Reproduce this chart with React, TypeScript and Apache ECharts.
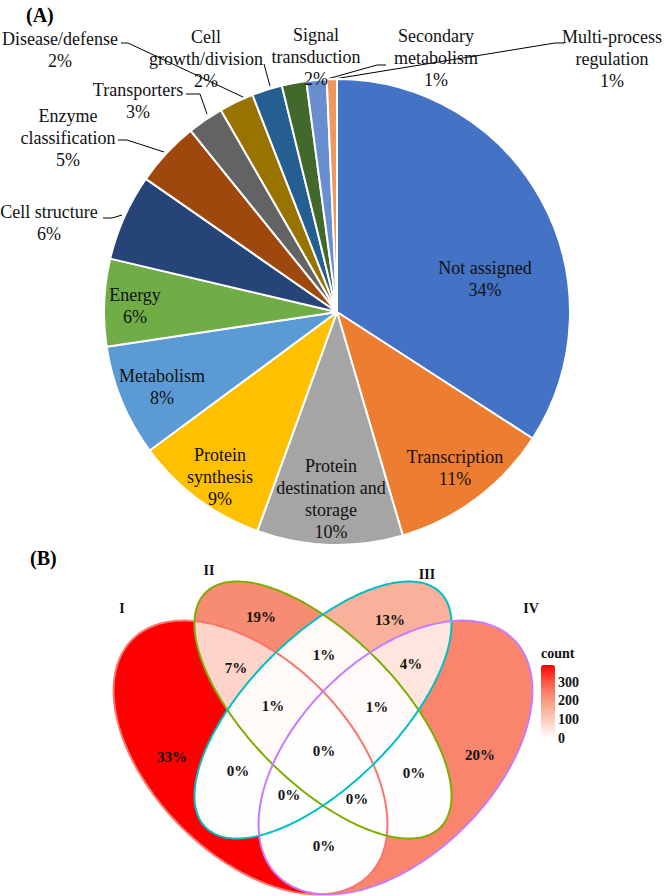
import React, { useEffect, useRef } from 'react';
import * as echarts from 'echarts';

const SERIF = '"Liberation Serif", "Times New Roman", serif';

// ---------- Panel A: pie data ----------
const PIE_CATEGORIES = [
  'Not assigned', 'Transcription', 'Protein destination and storage', 'Protein synthesis',
  'Metabolism', 'Energy', 'Cell structure', 'Enzyme classification', 'Transporters',
  'Disease/defense', 'Cell growth/division', 'Signal transduction', 'Secondary metabolism',
  'Multi-process regulation',
];
const PIE_VALUES = [34.1, 11.3, 10.1, 9.3, 7.75, 6.05, 6.0, 4.5, 2.5, 2.4, 2.1, 1.7, 1.4, 0.7];
const PIE_LABEL_TEXT = [
  'Not assigned', 'Transcription', 'Protein\ndestination and\nstorage', 'Protein\nsynthesis',
  'Metabolism', 'Energy', 'Cell structure', 'Enzyme\nclassification', 'Transporters',
  'Disease/defense', 'Cell\ngrowth/division', 'Signal\ntransduction', 'Secondary\nmetabolism',
  'Multi-process\nregulation',
];
const PIE_COLORS = [
  '#4472C4', '#ED7D31', '#A5A5A5', '#FFC000', '#5B9BD5', '#70AD47', '#264478',
  '#9E480E', '#636363', '#997300', '#255E91', '#43682B', '#698ED0', '#F1975A',
];
const PIE_INSIDE = [true, true, true, true, true, true, false, false, false, false, false, false, false, false];

// label layout (text block centres) and leader lines
const PIE_LABEL_XY: number[][] = [
  [485, 279], [455, 468], [331, 499], [220, 477], [162, 387], [135, 306],
  [49, 223], [68, 138], [138, 101], [60, 50], [206, 59], [316, 57], [436, 58], [612, 59],
];
const PIE_LEADERS: (number[][] | null)[] = [
  null, null, null, null, null, null,
  [[103, 218], [112, 218], [122, 215]],
  [[118, 140], [127, 140], [164, 152]],
  [[186, 94], [200, 94], [207, 114]],
  [[121, 43], [128, 43], [243, 97]],
  [[264, 64], [270, 86]],
  null,
  [[386, 65], [377, 65], [320, 81]],
  [[564, 43], [555, 43], [334, 79]],
];

// ---------- Panel B: Venn data ----------
const SET_NAMES = ['I', 'II', 'III', 'IV'];
const SET_COLORS = ['#F8766D', '#7CAE00', '#00BFC4', '#C77CFF'];
const REGION_SETS = [
  [0], [1], [2], [3],
  [0, 1], [0, 2], [0, 3], [1, 2], [1, 3], [2, 3],
  [0, 1, 2], [0, 1, 3], [0, 2, 3], [1, 2, 3],
  [0, 1, 2, 3],
];
const REGION_COUNTS = [392, 226, 155, 238, 83, 2, 1, 12, 3, 48, 10, 1, 2, 9, 1];
const COUNT_TICKS = [0, 100, 200, 300];

// Venn layout (pixels)
const VENN_ELLIPSES = [
  { cx: 250.5, cy: 757.5, a: 167, b: 98, angle: 45 },
  { cx: 323, cy: 710, a: 166, b: 74, angle: 45 },
  { cx: 323, cy: 710, a: 166, b: 74, angle: -45 },
  { cx: 395.5, cy: 757.5, a: 167, b: 98, angle: -45 },
];
const SET_LABEL_XY = [[122, 608], [209, 570], [427, 574], [531, 608]];
const REGION_LABEL_XY = [
  [172, 757], [261, 617], [390, 620], [480, 755],
  [236, 668], [238, 771], [324, 846], [324, 655], [414, 773], [411, 664],
  [273, 706], [357, 799], [289, 795], [377, 707],
  [324, 751],
];

function ellipsePoly(e: { cx: number; cy: number; a: number; b: number; angle: number }): number[][] {
  const n = 240;
  const phi = (e.angle * Math.PI) / 180;
  const pts: number[][] = [];
  for (let k = 0; k < n; k++) {
    const t = (k / n) * Math.PI * 2;
    const x = e.cx + e.a * Math.cos(t) * Math.cos(phi) - e.b * Math.sin(t) * Math.sin(phi);
    const y = e.cy + e.a * Math.cos(t) * Math.sin(phi) + e.b * Math.sin(t) * Math.cos(phi);
    pts.push([x, y]);
  }
  return pts;
}

function clipConvex(subject: number[][], clip: number[][]): number[][] {
  let out = subject;
  for (let i = 0; i < clip.length; i++) {
    const A = clip[i];
    const B = clip[(i + 1) % clip.length];
    const inp = out;
    out = [];
    if (!inp.length) return out;
    const side = (P: number[]) => (B[0] - A[0]) * (P[1] - A[1]) - (B[1] - A[1]) * (P[0] - A[0]);
    for (let j = 0; j < inp.length; j++) {
      const P = inp[j];
      const Q = inp[(j + 1) % inp.length];
      const sp = side(P);
      const sq = side(Q);
      if (sp >= 0) out.push(P);
      if ((sp >= 0) !== (sq >= 0)) {
        const t = sp / (sp - sq);
        out.push([P[0] + t * (Q[0] - P[0]), P[1] + t * (Q[1] - P[1])]);
      }
    }
  }
  return out;
}

const ELLIPSE_POLYS = VENN_ELLIPSES.map(ellipsePoly);
const TOTAL = REGION_COUNTS.reduce((s, v) => s + v, 0);
const VMAX = Math.max(...REGION_COUNTS);

function buildOption(): any {
  return {
    animation: false,
    backgroundColor: '#ffffff',
    textStyle: { fontFamily: SERIF },
    graphic: [
      { type: 'text', left: 26, top: 5, style: { text: '(A)', font: `bold 20px ${SERIF}`, fill: '#000' } },
      { type: 'text', left: 30, top: 548, style: { text: '(B)', font: `bold 20px ${SERIF}`, fill: '#000' } },
      { type: 'text', left: 541, top: 646, style: { text: 'count', font: `bold 14px ${SERIF}`, fill: '#111' } },
    ],
    grid: { left: 541, top: 665, width: 14, height: 73 },
    xAxis: { type: 'value', show: false, min: 0, max: 1 },
    yAxis: {
      type: 'value', min: 0, max: VMAX, interval: 100, position: 'right',
      axisLine: { show: false },
      axisTick: { show: true, inside: true, length: 3, lineStyle: { color: '#ffffff', width: 1 } },
      splitLine: { show: false },
      axisLabel: {
        margin: 3, fontFamily: SERIF, fontWeight: 'bold', fontSize: 14, color: '#111',
        formatter: (v: number) => (COUNT_TICKS.indexOf(v) >= 0 ? String(v) : ''),
      },
    },
    visualMap: {
      type: 'continuous', min: 0, max: VMAX, seriesIndex: 1, dimension: 0,
      left: 541, top: 665, itemWidth: 14, itemHeight: 73, padding: 0,
      calculable: false, hoverLink: false, orient: 'vertical',
      inRange: { color: ['#FFFFFF', '#FDD6CA', '#F9B09A', '#F8876E', '#FC4D3A', '#FF0000'] },
    },
    series: [
      {
        type: 'pie',
        center: [337, 312],
        radius: 233,
        startAngle: 90,
        clockwise: true,
        avoidLabelOverlap: false,
        emphasis: { disabled: true },
        itemStyle: { borderColor: '#ffffff', borderWidth: 2 },
        label: {
          textBorderWidth: 0,
          formatter: (p: any) =>
            `${PIE_LABEL_TEXT[p.dataIndex]}\n${Math.round(p.percent)}%`
              .split('\n')
              .map((s) => `{t|${s}}`)
              .join('\n'),
          rich: {
            t: { fontFamily: SERIF, fontSize: 18, lineHeight: 22, color: '#111', align: 'center' },
          },
        },
        labelLine: { lineStyle: { color: '#000', width: 1 }, smooth: false },
        labelLayout: (p: any) => {
          const i = p.dataIndex;
          const xy = PIE_LABEL_XY[i];
          const res: any = { x: xy[0], y: xy[1], align: 'center', verticalAlign: 'middle', hideOverlap: false };
          if (PIE_LEADERS[i]) res.labelLinePoints = PIE_LEADERS[i];
          return res;
        },
        data: PIE_CATEGORIES.map((name, i) => ({
          name,
          value: PIE_VALUES[i],
          itemStyle: { color: PIE_COLORS[i] },
          label: { position: PIE_INSIDE[i] ? 'inside' : 'outside' },
          labelLine: { show: !PIE_INSIDE[i] && PIE_LEADERS[i] != null },
        })),
      },
      {
        type: 'custom',
        coordinateSystem: 'none',
        z: 2,
        silent: true,
        dimensions: ['count'],
        data: REGION_COUNTS.map((c) => [c]),
        renderItem: (params: any, api: any) => {
          const i = params.dataIndex;
          const sets = REGION_SETS[i];
          let poly = ELLIPSE_POLYS[sets[0]];
          for (let k = 1; k < sets.length; k++) poly = clipConvex(poly, ELLIPSE_POLYS[sets[k]]);
          return {
            type: 'polygon',
            z2: i,
            shape: { points: poly },
            style: { fill: api.visual('color'), stroke: null },
          };
        },
      },
      {
        type: 'custom',
        coordinateSystem: 'none',
        z: 3,
        silent: true,
        data: SET_NAMES.map((n, i) => [i]),
        renderItem: (params: any) => {
          const i = params.dataIndex;
          return {
            type: 'group',
            children: [
              {
                type: 'polygon',
                shape: { points: ELLIPSE_POLYS[i] },
                style: { fill: 'none', stroke: SET_COLORS[i], lineWidth: 2 },
              },
              {
                type: 'text',
                x: SET_LABEL_XY[i][0],
                y: SET_LABEL_XY[i][1],
                style: {
                  text: SET_NAMES[i], font: `bold 14px ${SERIF}`, fill: '#111',
                  align: 'center', verticalAlign: 'middle',
                },
              },
            ],
          };
        },
      },
      {
        type: 'custom',
        coordinateSystem: 'none',
        z: 4,
        silent: true,
        data: REGION_COUNTS.map((c) => [c]),
        renderItem: (params: any) => {
          const i = params.dataIndex;
          const pct = Math.round((REGION_COUNTS[i] / TOTAL) * 100);
          return {
            type: 'text',
            x: REGION_LABEL_XY[i][0],
            y: REGION_LABEL_XY[i][1],
            style: {
              text: `${pct}%`, font: `bold 15px ${SERIF}`, fill: '#111',
              align: 'center', verticalAlign: 'middle',
            },
          };
        },
      },
    ],
  };
}

export default function App() {
  const ref = useRef<HTMLDivElement>(null);
  useEffect(() => {
    document.body.style.margin = '0';
    const chart = echarts.init(ref.current as HTMLDivElement, null, { renderer: 'svg' });
    chart.setOption(buildOption());
    return () => chart.dispose();
  }, []);
  return <div ref={ref} style={{ width: 664, height: 896 }} />;
}
